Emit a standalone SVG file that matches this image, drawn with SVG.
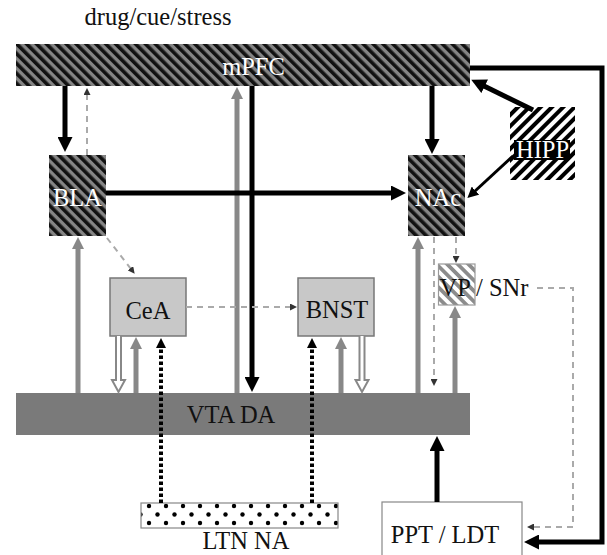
<svg xmlns="http://www.w3.org/2000/svg" width="607" height="555" viewBox="0 0 607 555">
<style>
text{font-family:"Liberation Serif","Times New Roman",serif;font-size:24.5px;text-anchor:middle;fill:#111}
.wt{fill:#fff}
.blk{stroke:#000;stroke-width:5;fill:none}
.gry{stroke:#888;stroke-width:5;fill:none}
.dsh{stroke:#aaa;stroke-width:2;stroke-dasharray:6 5;fill:none}
.dot{stroke:#000;stroke-width:4;stroke-dasharray:3.5 2.5;fill:none}
.hol{fill:#fff;stroke:#888;stroke-width:2}
</style>
<defs>
<pattern id="hatchDark" width="7" height="7" patternUnits="userSpaceOnUse" patternTransform="rotate(-45)">
<rect width="7" height="7" fill="#858585"/><rect width="3.6" height="7" fill="#111"/>
</pattern>
<pattern id="hatchHipp" width="8" height="8" patternUnits="userSpaceOnUse" patternTransform="rotate(45)">
<rect width="8" height="8" fill="#fff"/><rect width="4" height="8" fill="#000"/>
</pattern>
<pattern id="hatchVP" width="7.5" height="7.5" patternUnits="userSpaceOnUse" patternTransform="rotate(-45)">
<rect width="7.5" height="7.5" fill="#fff"/><rect width="3.75" height="7.5" fill="#8c8c8c"/>
</pattern>
<pattern id="dots" width="17" height="17" patternUnits="userSpaceOnUse">
<rect width="17" height="17" fill="#fff"/><circle cx="4.5" cy="4.5" r="2.2" fill="#000"/><circle cx="13" cy="13" r="2.2" fill="#000"/>
</pattern>
<marker id="aBlk" markerUnits="userSpaceOnUse" markerWidth="15" markerHeight="15" refX="3" refY="7.5" orient="auto"><path d="M0,0 L15,7.5 L0,15 z" fill="#000"/></marker>
<marker id="aBlkS" markerUnits="userSpaceOnUse" markerWidth="11" markerHeight="11" refX="2" refY="5.5" orient="auto"><path d="M0,0 L11,5.5 L0,11 z" fill="#000"/></marker>
<marker id="aGry" markerUnits="userSpaceOnUse" markerWidth="12" markerHeight="12" refX="2" refY="6" orient="auto"><path d="M0,0 L12,6 L0,12 z" fill="#888"/></marker>
<marker id="aDsh" markerUnits="userSpaceOnUse" markerWidth="7" markerHeight="7" refX="1" refY="3.5" orient="auto"><path d="M0,0 L7,3.5 L0,7 z" fill="#333"/></marker>
<marker id="aDot" markerUnits="userSpaceOnUse" markerWidth="10" markerHeight="10" refX="2" refY="5" orient="auto"><path d="M0,0 L10,5 L0,10 z" fill="#000"/></marker>
</defs>
<rect width="607" height="555" fill="#fff"/>
<text x="158" y="25">drug/cue/stress</text>

<g id="mPFC"><rect x="16" y="44" width="454" height="42" fill="url(#hatchDark)"/><text class="wt" x="253.5" y="75">mPFC</text></g>
<g id="BLA"><rect x="49" y="155" width="57" height="81" fill="url(#hatchDark)"/><text class="wt" x="77.5" y="206">BLA</text></g>
<g id="NAc"><rect x="408" y="155" width="57" height="81" fill="url(#hatchDark)"/><text class="wt" x="438" y="206">NAc</text></g>
<g id="HIPP"><rect x="510" y="107" width="65" height="73" fill="url(#hatchHipp)"/><rect x="514" y="140" width="56" height="20" fill="#000"/><text class="wt" x="542.5" y="158">HIPP</text></g>
<g id="CeA"><rect x="110" y="278" width="76" height="58" fill="#c8c8c8" stroke="#777" stroke-width="1.5"/><text x="148" y="319">CeA</text></g>
<g id="BNST"><rect x="298" y="278" width="76" height="58" fill="#c8c8c8" stroke="#777" stroke-width="1.5"/><text x="337" y="318">BNST</text></g>
<g id="VP"><rect x="438.5" y="264" width="36.5" height="41" fill="url(#hatchVP)" stroke="#999" stroke-width="1.2"/><text x="484" y="296">VP / SNr</text></g>
<g id="VTA"><rect x="16" y="393" width="454" height="42" fill="#7a7a7a"/><text x="231" y="423">VTA DA</text></g>
<g id="LTN"><rect x="141" y="503" width="197" height="25" fill="url(#dots)" stroke="#888" stroke-width="1.2"/><text x="246" y="549">LTN NA</text></g>
<g id="PPT"><rect x="382" y="502" width="140" height="60" fill="#fff" stroke="#888" stroke-width="1.2"/><text x="445" y="543">PPT / LDT</text></g>

<g id="connectors">
<line class="blk" x1="65" y1="86" x2="65" y2="140" marker-end="url(#aBlk)"/>
<line class="dsh" x1="87" y1="155" x2="87" y2="94" marker-end="url(#aDsh)"/>
<line class="gry" x1="237" y1="393" x2="237" y2="97" marker-end="url(#aGry)"/>
<line class="blk" x1="106" y1="193" x2="394" y2="193" marker-end="url(#aBlk)"/>
<line class="blk" x1="252" y1="86" x2="252" y2="380" marker-end="url(#aBlk)"/>
<line class="blk" x1="432" y1="86" x2="432" y2="142" marker-end="url(#aBlk)"/>
<line class="blk" x1="533" y1="110" x2="482" y2="85" marker-end="url(#aBlk)"/>
<line class="blk" style="stroke-width:3" x1="513" y1="156" x2="474" y2="192" marker-end="url(#aBlkS)"/>
<path class="blk" d="M470,68 H602 V542 H536" marker-end="url(#aBlk)"/>
<line class="gry" x1="78" y1="393" x2="78" y2="247" marker-end="url(#aGry)"/>
<line class="dsh" x1="107" y1="238" x2="131" y2="269" marker-end="url(#aDsh)"/>
<line class="dsh" x1="186" y1="307" x2="291" y2="307" marker-end="url(#aDsh)"/>
<path class="hol" d="M116,336 V380 H112 L118.5,392 L125,380 H121 V336"/>
<line class="gry" x1="136" y1="393" x2="136" y2="347" marker-end="url(#aGry)"/>
<line class="dot" x1="161" y1="503" x2="161" y2="346" marker-end="url(#aDot)"/>
<line class="dot" x1="312" y1="503" x2="312" y2="346" marker-end="url(#aDot)"/>
<line class="gry" x1="341" y1="393" x2="341" y2="347" marker-end="url(#aGry)"/>
<path class="hol" d="M359.5,336 V380 H355.5 L362,392 L368.5,380 H364.5 V336"/>
<line class="gry" x1="418" y1="393" x2="418" y2="247" marker-end="url(#aGry)"/>
<line class="dsh" x1="434" y1="237" x2="434" y2="380" marker-end="url(#aDsh)"/>
<line class="dsh" x1="456" y1="237" x2="456" y2="257" marker-end="url(#aDsh)"/>
<line class="gry" x1="455" y1="393" x2="455" y2="316" marker-end="url(#aGry)"/>
<path class="dsh" d="M537,288 H573 V527 H533" marker-end="url(#aDsh)"/>
<line class="blk" x1="437" y1="502" x2="437" y2="448" marker-end="url(#aBlk)"/>
</g>
</svg>
